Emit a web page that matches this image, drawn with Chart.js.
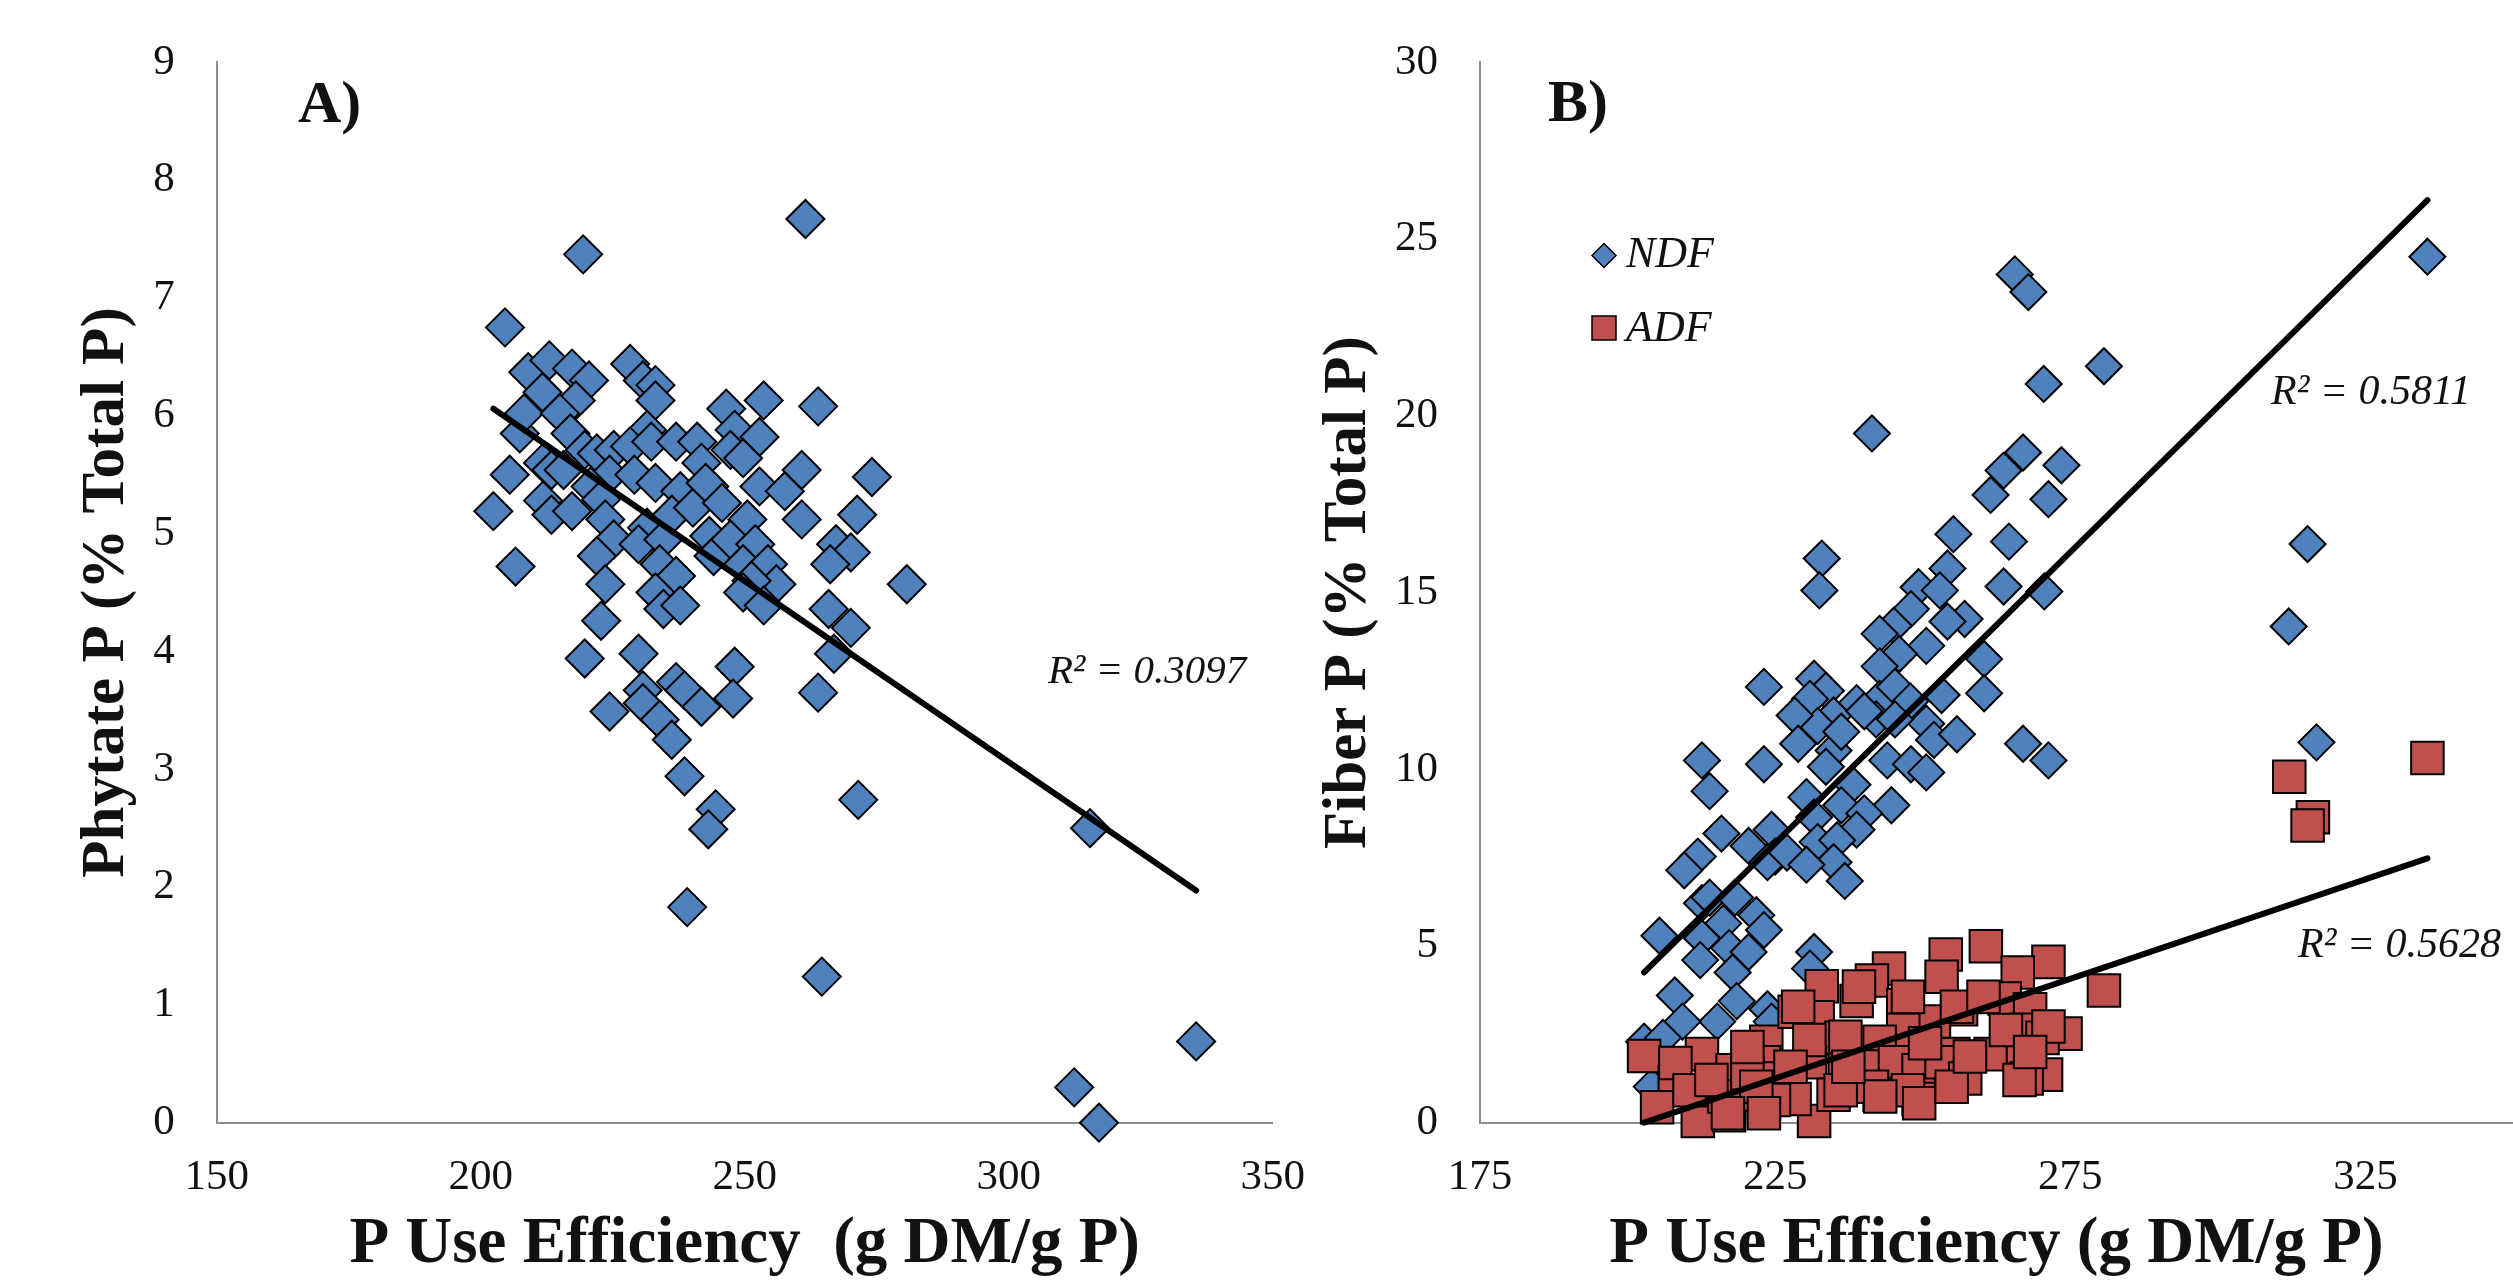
<!DOCTYPE html>
<html>
<head>
<meta charset="utf-8">
<script src="https://cdn.jsdelivr.net/npm/chart.js@4.4.1/dist/chart.umd.min.js"></script>
<style>
html, body { margin: 0; padding: 0; background: #ffffff; overflow: hidden; width: 2513px; height: 1281px; }
canvas { position: absolute; top: 0; }
#cA { left: 0px; width: 1330px; height: 1281px; }
#cB { left: 1290px; width: 1253px; height: 1281px; }
</style>
</head>
<body>
<canvas id="cA" width="1330" height="1281"></canvas>
<canvas id="cB" width="1253" height="1281"></canvas>
<script>
// ---------------- DATA ----------------
// Panel A: Phytate P (% Total P) vs P Use Efficiency
const phytateX = [261.5,219.4,204.6,202.4,205.5,206.6,207.4,209.0,208.2,213.0,211.7,217.3,220.5,218.0,215.0,217.0,211.8,213.4,215.7,219.7,
  222.0,225.2,224.4,220.8,211.8,213.4,217.3,222.8,223.6,225.2,222.0,223.6,222.8,219.7,224.4,228.3,230.7,233.1,233.1,231.5,
  228.3,229.1,233.1,232.3,237.0,241.0,241.8,237.8,243.3,231.5,229.9,234.6,236.2,240.2,243.3,244.1,233.9,237.0,233.1,234.6,
  237.8,229.9,230.7,230.7,233.9,236.2,237.0,238.6,241.8,248.1,247.8,238.6,244.5,243.1,239.1,246.5,248.1,247.3,253.6,252.8,
  249.7,242.6,245.7,252.8,257.6,260.8,260.8,263.9,250.5,247.3,252.0,249.7,254.4,256.0,251.3,249.7,253.6,267.3,271.3,274.1,
  270.1,266.2,280.7,265.9,270.1,266.9,263.9,271.5,264.6,315.4,312.4,317.1,335.5];
const phytateY = [7.67,7.37,6.75,5.19,5.50,4.72,5.85,6.37,6.02,6.47,6.20,6.40,6.30,6.13,6.02,5.85,5.60,5.54,5.54,5.71,
  5.68,5.71,5.50,5.40,5.28,5.16,5.19,5.29,5.12,4.95,4.81,4.57,4.26,3.94,3.49,6.44,6.30,6.26,6.13,5.88,
  5.74,5.50,5.43,5.78,5.78,5.78,5.60,5.36,5.40,5.05,4.91,4.95,5.16,5.22,4.98,4.81,4.74,4.64,4.50,4.36,
  4.39,3.98,3.67,3.56,3.42,3.25,3.74,3.67,3.53,3.87,3.60,2.94,2.66,2.49,1.83,6.06,5.88,5.71,6.13,5.82,
  5.64,5.43,5.26,5.40,5.36,5.54,5.12,6.08,5.12,4.95,4.91,4.74,4.74,4.57,4.60,4.50,4.39,4.91,5.16,5.48,
  4.84,4.74,4.57,4.36,4.20,3.98,3.65,2.74,1.24,2.50,0.30,0.00,0.69];
const phytateTrendX = [202.4, 335.5];
const phytateTrendY = [6.06, 1.97];
const phytateR2 = 'R\u00B2 = 0.3097';

// Panel B: Fiber P (% Total P) vs P Use Efficiency
const ndfX = [335.5,265.6,267.9,280.7,270.5,241.4,267.0,263.7,273.5,261.5,271.3,255.2,264.6,315.2,232.9,232.5,254.2,249.3,252.9,263.7,
  270.6,248.0,245.1,242.7,257.1,254.2,312.0,250.6,246.0,242.7,260.4,260.4,223.1,231.6,233.6,230.9,238.8,242.7,245.3,247.9,
  253.2,242.1,234.9,232.2,228.3,250.6,245.3,251.9,255.8,267.0,271.3,316.7,228.9,234.9,233.6,244.0,248.0,250.6,212.6,223.1,
  213.9,238.1,230.3,236.2,244.7,240.1,231.6,238.8,215.9,224.4,220.5,225.0,223.7,227.0,232.2,235.5,234.9,230.3,236.8,211.9,
  209.6,212.6,213.9,218.2,216.2,221.8,223.1,205.4,212.6,217.2,220.5,212.3,217.8,218.5,215.2,208.0,209.3,202.8,206.0,231.6,
  230.9,223.7,224.4,204.1,236.2,240.1];
const ndfY = [24.5,24.0,23.5,21.4,20.9,19.5,18.96,18.45,18.6,17.76,17.64,16.65,16.44,16.37,15.96,15.06,15.68,15.15,15.06,15.17,
  15.03,14.53,14.06,13.83,14.25,14.18,14.04,13.49,13.26,12.91,13.12,12.15,12.33,12.56,12.22,11.99,11.87,11.99,12.33,11.92,
  12.10,11.41,11.52,11.22,11.52,11.29,11.41,10.83,10.99,10.72,10.25,10.76,10.72,10.53,10.07,10.25,10.14,9.91,10.25,10.14,
  9.38,9.56,9.21,8.98,8.98,8.75,8.64,8.29,8.18,8.29,7.83,7.53,7.37,7.64,7.94,7.99,7.37,7.30,6.84,7.53,
  7.14,6.21,6.37,6.37,5.64,5.87,5.45,5.29,5.22,4.94,4.83,4.60,4.25,3.44,2.86,3.60,2.86,2.29,2.40,4.83,
  4.36,3.21,2.86,1.02,11.06,11.64];
const adfX = [312.1,316.1,315.2,335.5,280.7,260.7,271.3,253.9,266.1,244.3,241.4,253.2,232.9,223.5,232.2,238.8,263.9,268.2,256.5,228.3,
  246.7,267.6,274.2,270.3,261.5,255.2,251.9,246.7,236.2,242.7,202.8,212.6,208.0,215.2,217.8,223.1,225.7,230.9,236.8,241.4,
  245.3,249.3,253.2,257.2,267.0,270.9,267.6,205.0,211.9,217.2,223.1,231.6,234.9,242.7,249.3,220.5,228.3,208.1,216.4,210.5,
  214.2,220.3,224.8,221.8,228.9,239.2,247.5,255.8,260.3,236.9,230.8,264.1,266.4,247.5,241.4,236.1,249.4,242.8,254.9,237.4,
  227.6,217.0,223.1,258.0,250.4,220.3,271.3,268.2];
const adfY = [9.79,8.64,8.41,10.32,3.74,4.99,4.55,4.76,4.25,4.36,4.02,4.13,3.86,2.29,2.98,3.44,3.51,3.21,3.21,3.14,
  3.33,2.63,2.52,2.40,1.94,1.94,2.86,2.63,2.40,2.29,1.89,1.94,1.13,1.13,1.48,1.71,1.25,1.71,1.48,1.59,
  1.71,1.48,1.71,1.25,1.71,1.36,1.25,0.44,0.05,0.21,0.55,0.05,0.79,0.79,0.67,0.79,0.67,1.69,0.74,0.92,
  1.21,1.40,0.64,1.02,3.28,3.85,3.56,3.28,3.56,2.43,2.34,2.62,1.21,0.92,1.02,0.92,0.55,0.74,1.02,1.58,
  1.58,0.27,0.27,1.87,2.25,2.14,2.72,2.00];
const ndfTrendX = [202.8, 335.5];
const ndfTrendY = [4.25, 26.1];
const adfTrendX = [202.8, 335.5];
const adfTrendY = [0.0, 7.48];
const ndfR2 = 'R\u00B2 = 0.5811';
const adfR2 = 'R\u00B2 = 0.5628';

// Axes / tick labels
const xTicksA = [150, 200, 250, 300, 350];
const yTicksA = [0, 1, 2, 3, 4, 5, 6, 7, 8, 9];
const xTicksB = [175, 225, 275, 325];
const yTicksB = [0, 5, 10, 15, 20, 25, 30];
const xTitleA = 'P Use Efficiency  (g DM/g P)';
const yTitleA = 'Phytate P (% Total P)';
const xTitleB = 'P Use Efficiency (g DM/g P)';
const yTitleB = 'Fiber P (% Total P)';
const seriesNames = ['NDF', 'ADF'];

// ---------------- STYLE ----------------
const SERIF = '"Liberation Serif", "Times New Roman", Times, serif';
const BLUE = '#4F81BD';
const RED = '#C0504D';
const AXIS = '#8c8c8c';
const TEXT = '#111111';

function pts(xs, ys) { return xs.map((x, i) => ({ x: x, y: ys[i] })); }

const annotPlugin = {
  id: 'annot',
  afterDraw(chart, args, opts) {
    const ctx = chart.ctx;
    ctx.save();
    (opts.texts || []).forEach(t => {
      ctx.font = t.font; ctx.fillStyle = TEXT; ctx.textAlign = 'left'; ctx.textBaseline = 'alphabetic';
      ctx.fillText(t.text, t.x, t.y);
    });
    (opts.legend || []).forEach(l => {
      ctx.beginPath();
      if (l.shape === 'diamond') {
        ctx.moveTo(l.cx - l.r, l.cy); ctx.lineTo(l.cx, l.cy - l.r); ctx.lineTo(l.cx + l.r, l.cy); ctx.lineTo(l.cx, l.cy + l.r); ctx.closePath();
      } else {
        ctx.rect(l.cx - l.r, l.cy - l.r, 2 * l.r, 2 * l.r);
      }
      ctx.fillStyle = l.color; ctx.fill(); ctx.lineWidth = 1.5; ctx.strokeStyle = '#000'; ctx.stroke();
      ctx.font = 'italic 44px ' + SERIF; ctx.fillStyle = TEXT; ctx.textAlign = 'left'; ctx.textBaseline = 'alphabetic';
      ctx.fillText(l.text, l.tx, l.ty);
    });
    ctx.restore();
  }
};

function axisX(min, max, ticks, title, h) {
  return {
    type: 'linear', position: 'bottom', min: min, max: max,
    afterBuildTicks: s => { s.ticks = ticks.map(v => ({ value: v })); },
    afterFit: s => { s.height = h; s.paddingLeft = 0; s.paddingRight = 0; s.paddingTop = 0; s.paddingBottom = 0; },
    grid: { display: false, drawTicks: false },
    border: { display: true, color: AXIS, width: 2 },
    ticks: { font: { family: SERIF, size: 43 }, color: TEXT, padding: 29, maxRotation: 0, autoSkip: false },
    title: { display: true, text: title, color: TEXT, font: { family: SERIF, size: 65, weight: 'bold' }, padding: { top: 0, bottom: -3 } }
  };
}
function axisY(min, max, ticks, title, w, tpad) {
  return {
    type: 'linear', position: 'left', min: min, max: max,
    afterBuildTicks: s => { s.ticks = ticks.map(v => ({ value: v })); },
    afterFit: s => { s.width = w; s.paddingTop = 0; s.paddingBottom = 0; s.paddingLeft = 0; s.paddingRight = 0; },
    grid: { display: false, drawTicks: false },
    border: { display: true, color: AXIS, width: 2 },
    ticks: { font: { family: SERIF, size: 43 }, color: TEXT, padding: 42, autoSkip: false },
    title: { display: true, text: title, color: TEXT, font: { family: SERIF, size: 61, weight: 'bold' }, padding: { top: tpad, bottom: 0 } }
  };
}
function trendSet(xs, ys) {
  return { type: 'line', data: pts(xs, ys), borderColor: '#000', borderWidth: 6, borderCapStyle: 'round',
    pointRadius: 0, fill: false, showLine: true, tension: 0, clip: false, order: 0 };
}

// ---------------- PANEL A ----------------
new Chart(document.getElementById('cA'), {
  type: 'scatter',
  data: { datasets: [
    trendSet(phytateTrendX, phytateTrendY),
    { label: 'Phytate P', data: pts(phytateX, phytateY), pointStyle: 'rectRot', pointRadius: 19,
      pointBackgroundColor: BLUE, pointBorderColor: '#000', pointBorderWidth: 2, clip: false, order: 1 }
  ] },
  options: {
    responsive: false, animation: false, devicePixelRatio: 1, events: [],
    layout: { padding: { left: 0, top: 62.3, right: 57.3, bottom: 0 } },
    scales: { x: axisX(150, 350, xTicksA, xTitleA, 158.3), y: axisY(0, 9, yTicksA, yTitleA, 216.7, 71) },
    plugins: { legend: { display: false }, tooltip: { enabled: false },
      annot: { texts: [
        { text: 'A)', x: 298, y: 122, font: 'bold 60px ' + SERIF },
        { text: phytateR2, x: 1048, y: 683, font: 'italic 41px ' + SERIF } ] } }
  },
  plugins: [annotPlugin]
});

// ---------------- PANEL B ----------------
new Chart(document.getElementById('cB'), {
  type: 'scatter',
  data: { datasets: [
    trendSet(ndfTrendX, ndfTrendY),
    trendSet(adfTrendX, adfTrendY),
    { label: seriesNames[1], data: pts(adfX, adfY), pointStyle: 'rect', pointRadius: 23,
      pointBackgroundColor: RED, pointBorderColor: '#000', pointBorderWidth: 2, clip: false, order: 1 },
    { label: seriesNames[0], data: pts(ndfX, ndfY), pointStyle: 'rectRot', pointRadius: 18,
      pointBackgroundColor: BLUE, pointBorderColor: '#000', pointBorderWidth: 2, clip: false, order: 2 }
  ] },
  options: {
    responsive: false, animation: false, devicePixelRatio: 1, events: [],
    layout: { padding: { left: 0, top: 62.3, right: 30, bottom: 0 } },
    scales: { x: axisX(175, 350, xTicksB, xTitleB, 158.3), y: axisY(0, 30, yTicksB, yTitleB, 190, 23) },
    plugins: { legend: { display: false }, tooltip: { enabled: false },
      annot: {
        texts: [
          { text: 'B)', x: 258, y: 121, font: 'bold 60px ' + SERIF },
          { text: ndfR2, x: 981, y: 404, font: 'italic 42px ' + SERIF },
          { text: adfR2, x: 1008, y: 957, font: 'italic 42px ' + SERIF } ],
        legend: [
          { shape: 'diamond', cx: 314, cy: 255.5, r: 12, color: BLUE, text: seriesNames[0], tx: 336, ty: 267 },
          { shape: 'square', cx: 314, cy: 328, r: 12, color: RED, text: seriesNames[1], tx: 336, ty: 341 } ] } }
  },
  plugins: [annotPlugin]
});
</script>
</body>
</html>
